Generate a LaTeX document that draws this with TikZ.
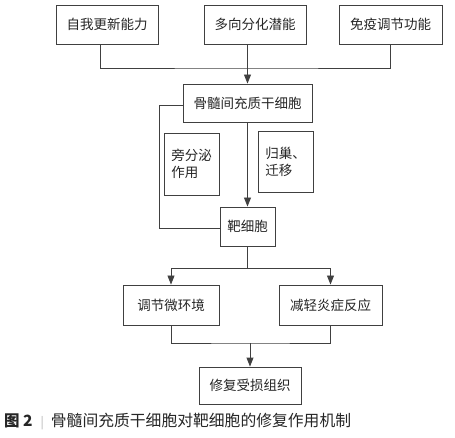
\documentclass[tikz,border=0pt]{standalone}
\usepackage{fontspec}
\setmainfont{Noto Sans CJK SC}
\usetikzlibrary{arrows.meta}
\definecolor{linegray}{HTML}{404040}
\definecolor{txt}{HTML}{262626}
\tikzset{
  box/.style={draw=linegray, line width=0.9pt, fill=white, inner sep=0pt, font=\fontsize{13.5}{17}\selectfont, text=txt},
  conn/.style={draw=linegray, line width=0.9pt},
  arr/.style={conn, -{Triangle[length=9pt,width=7pt]}}
}
\begin{document}
\begin{tikzpicture}[x=1pt,y=-1pt]
\useasboundingbox (0,0) rectangle (455,438);
\node[box, minimum width=102pt, minimum height=39pt] (a) at (107,24.5) {自我更新能力};
\node[box, minimum width=102pt, minimum height=39pt] (b) at (255,24.5) {多向分化潜能};
\node[box, minimum width=103pt, minimum height=39pt] (c) at (390.5,24.5) {免疫调节功能};
\node[box, minimum width=129pt, minimum height=38pt] (msc) at (247.5,103) {骨髓间充质干细胞};
\node[box, minimum width=55pt, minimum height=62pt, align=left] (para) at (191.5,164) {旁分泌\\作用};
\node[box, minimum width=55pt, minimum height=61pt, align=left] (home) at (285.5,161.5) {归巢、\\迁移};
\node[box, minimum width=55pt, minimum height=39pt] (t) at (247.5,226.5) {靶细胞};
\node[box, minimum width=96pt, minimum height=40pt] (env) at (171,305) {调节微环境};
\node[box, minimum width=103pt, minimum height=40pt] (inf) at (330.5,305) {减轻炎症反应};
\node[box, minimum width=102pt, minimum height=37pt] (rep) at (250,385.5) {修复受损组织};
\coordinate (j1) at (247.5,68);
\coordinate (j2) at (247.5,268);
\coordinate (j3) at (250,343);
\draw[conn] ([xshift=-7pt]a.south) |- (j1) -| (c.south);
\draw[arr] (msc.north |- b.south) -- (msc.north);
\draw[conn] (msc.west |- 0,105) -| (159,228) -- (t.west |- 0,228);
\draw[arr] (msc.south) -- (t.north);
\draw[conn] (t.south) -- (j2);
\draw[arr] (j2) -| (env.north);
\draw[arr] (j2) -| (inf.north);
\draw[conn] (env.south) |- (j3) -| (inf.south);
\draw[arr] (j3) -- (rep.north);
\node[anchor=west, inner sep=0pt, font=\fontsize{15.5}{17}\selectfont, text=txt] (cap) at (4,422) {\textbf{图 2}\hspace{8pt}{\color{gray!60}\fontsize{12}{12}\selectfont |}\hspace{7pt}\fontsize{15.8}{17}\selectfont 骨髓间充质干细胞对靶细胞的修复作用机制};
\end{tikzpicture}
\end{document}
